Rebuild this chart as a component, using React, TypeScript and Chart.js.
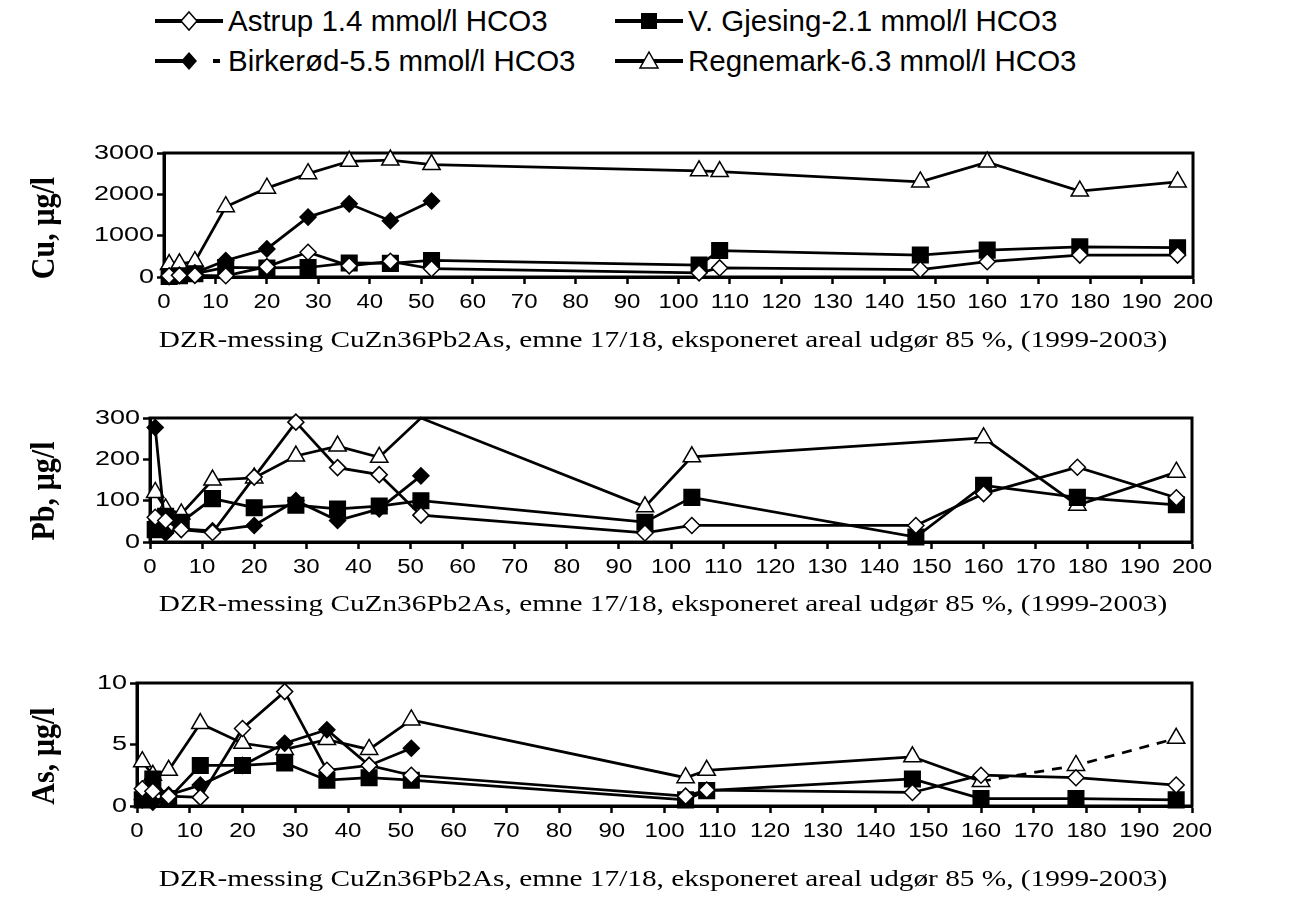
import React, { useEffect, useRef } from 'react';
import { Chart, registerables } from 'chart.js';

Chart.register(...registerables);

const W = 1289;

// ---------- data ----------
const seriesNames = [
  'Astrup 1.4 mmol/l HCO3',
  'V. Gjesing-2.1 mmol/l HCO3',
  'Birkerød-5.5 mmol/l HCO3',
  'Regnemark-6.3 mmol/l HCO3',
];

const xAxisTitle = 'DZR-messing CuZn36Pb2As, emne 17/18, eksponeret areal udgør 85 %, (1999-2003)';

// Cu, µg/l
const cuDays = [1, 3, 6, 12, 20, 28, 36, 44, 52, 104, 108, 147, 160, 178, 197];
const cuAstrup = [30, 40, 40, 30, 250, 600, 270, 380, 200, 100, 220, 180, 370, 530, 530];
const cuGjesing = [10, 30, 80, 230, 220, 230, 340, 330, 400, 290, 640, 530, 650, 730, 710];
const cuBirkerodDays = [1, 3, 6, 12, 20, 28, 36, 44, 52];
const cuBirkerod = [10, 40, 100, 400, 680, 1450, 1770, 1360, 1840];
const cuRegnemark = [300, 320, 370, 1700, 2150, 2500, 2800, 2830, 2720, 2570, 2550, 2300, 2780, 2080, 2300];

// Pb, µg/l
const pbDays = [1, 3, 6, 12, 20, 28, 36, 44, 52, 95, 104, 147, 160, 178, 197];
const pbAstrup = [60, 52, 30, 23, 157, 290, 180, 163, 65, 22, 40, 40, 117, 181, 107];
const pbGjesing = [30, 62, 48, 105, 83, 89, 80, 87, 100, 48, 108, 12, 137, 108, 90];
const pbBirkerodDays = [1, 3, 6, 12, 20, 28, 36, 44, 52];
const pbBirkerod = [277, 22, 32, 27, 40, 100, 52, 80, 160];
const pbRegnemarkDays = [1, 3, 6, 12, 20, 28, 36, 44, 52, 95, 104, 160, 178, 197];
const pbRegnemark = [120, 80, 68, 150, 155, 208, 232, 205, 300, 85, 206, 252, 89, 169];

// As, µg/l
const asDays = [1, 3, 6, 12, 20, 28, 36, 44, 52, 104, 108, 147, 160, 178, 197];
const asAstrup = [1.4, 1.2, 0.8, 0.7, 6.3, 9.3, 2.9, 3.3, 2.5, 0.8, 1.3, 1.1, 2.5, 2.3, 1.7];
const asGjesing = [0.5, 2.2, 0.6, 3.3, 3.3, 3.5, 2.1, 2.3, 2.1, 0.5, 1.25, 2.2, 0.6, 0.6, 0.5];
const asBirkerodDays = [1, 3, 6, 12, 20, 28, 36, 44, 52];
const asBirkerod = [0.5, 0.3, 0.9, 1.7, 3.3, 5.1, 6.2, 3.3, 4.7];
const asRegnemark = [3.6, 2.5, 2.9, 6.7, 5.1, 4.6, 5.4, 4.6, 7.0, 2.3, 2.9, 4.0, 2.0, 3.3, 5.5];
const asRegnemarkDashFrom = 160;

// ---------- styling ----------
const X_TICK_STRETCH = 1.2;
const Y_TICK_STRETCH = 1.35;
const TITLE_STRETCH = 1.22;
const tickFont = { family: '"Liberation Sans", Arial, sans-serif', size: 20 };

const markerStyles = [
  { pointStyle: 'rectRot', radius: 8, fill: '#ffffff' },
  { pointStyle: 'rect', radius: 11, fill: '#000000' },
  { pointStyle: 'rectRot', radius: 8, fill: '#000000' },
  { pointStyle: 'triangle', radius: 10, fill: '#ffffff' },
];

type Series = { x: number[]; y: number[] };
type PanelSpec = {
  yTitle: string;
  yMax: number;
  yStep: number;
  series: Series[];
  dashFrom?: number;
  left: number;
  right: number;
  top: number;
  bottom: number;
  canvasTop: number;
  canvasH: number;
  yTitleX: number;
  yTitleY: number;
  xTitleX: number;
  xTitleY: number;
};

const zip = (xs: number[], ys: number[]) => xs.map((x, i) => ({ x, y: ys[i] }));

const panels: PanelSpec[] = [
  {
    yTitle: 'Cu, µg/l', yMax: 3000, yStep: 1000,
    series: [
      { x: cuDays, y: cuAstrup },
      { x: cuDays, y: cuGjesing },
      { x: cuBirkerodDays, y: cuBirkerod },
      { x: cuDays, y: cuRegnemark },
    ],
    left: 164, right: 1193, top: 153, bottom: 277,
    canvasTop: 113, canvasH: 257, yTitleX: 45, yTitleY: 228, xTitleX: 663, xTitleY: 341,
  },
  {
    yTitle: 'Pb, µg/l', yMax: 300, yStep: 100,
    series: [
      { x: pbDays, y: pbAstrup },
      { x: pbDays, y: pbGjesing },
      { x: pbBirkerodDays, y: pbBirkerod },
      { x: pbRegnemarkDays, y: pbRegnemark },
    ],
    left: 150, right: 1192, top: 418, bottom: 542,
    canvasTop: 378, canvasH: 257, yTitleX: 45, yTitleY: 491, xTitleX: 663, xTitleY: 605,
  },
  {
    yTitle: 'As, µg/l', yMax: 10, yStep: 5,
    series: [
      { x: asDays, y: asAstrup },
      { x: asDays, y: asGjesing },
      { x: asBirkerodDays, y: asBirkerod },
      { x: asDays, y: asRegnemark },
    ],
    dashFrom: asRegnemarkDashFrom,
    left: 137, right: 1192, top: 683, bottom: 806,
    canvasTop: 643, canvasH: 263, yTitleX: 45, yTitleY: 756, xTitleX: 663, xTitleY: 880,
  },
];

function patchStretch(ctx: any) {
  if (ctx.__origFillText) return;
  const orig = ctx.fillText.bind(ctx);
  ctx.__origFillText = orig;
  ctx.fillText = (text: string, x: number, y: number) => {
    const f = ctx.textAlign === 'right' ? Y_TICK_STRETCH : X_TICK_STRETCH;
    ctx.save();
    ctx.translate(x, y);
    ctx.scale(f, 1);
    orig(text, 0, 0);
    ctx.restore();
  };
}

function makeDecor(spec: PanelSpec) {
  return {
    id: 'panelDecor',
    beforeDatasetsDraw(chart: any) {
      const { ctx, chartArea: a } = chart;
      ctx.save();
      ctx.strokeStyle = '#000';
      ctx.lineWidth = 3;
      ctx.strokeRect(a.left, a.top, a.right - a.left, a.bottom - a.top);
      ctx.restore();
    },
    afterDraw(chart: any) {
      const ctx = chart.ctx as any;
      const orig = ctx.__origFillText || ctx.fillText.bind(ctx);
      ctx.save();
      ctx.fillStyle = '#000';
      ctx.font = '24px "Liberation Serif", "Times New Roman", serif';
      ctx.textAlign = 'center';
      ctx.textBaseline = 'middle';
      ctx.translate(spec.xTitleX, spec.xTitleY - spec.canvasTop);
      ctx.scale(TITLE_STRETCH, 1);
      orig(xAxisTitle, 0, 0);
      ctx.restore();

      ctx.save();
      ctx.fillStyle = '#000';
      ctx.font = 'bold 30px "Liberation Serif", "Times New Roman", serif';
      ctx.textAlign = 'center';
      ctx.textBaseline = 'middle';
      ctx.translate(spec.yTitleX, spec.yTitleY - spec.canvasTop);
      ctx.rotate(-Math.PI / 2);
      ctx.scale(1, 1.1);
      orig(spec.yTitle, 0, 0);
      ctx.restore();
    },
  };
}

function PanelChart({ spec }: { spec: PanelSpec }) {
  const ref = useRef<HTMLCanvasElement>(null);
  useEffect(() => {
    const canvas = ref.current!;
    const ctx = canvas.getContext('2d') as any;
    patchStretch(ctx);
    const plotH = spec.bottom - spec.top;
    const padTop = spec.top - spec.canvasTop;
    const xAxisH = spec.canvasH - padTop - plotH;

    const datasets = spec.series.map((s, i) => {
      const st = markerStyles[i];
      const ds: any = {
        label: seriesNames[i],
        data: zip(s.x, s.y),
        borderColor: '#000',
        borderWidth: 2.75,
        tension: 0,
        pointStyle: st.pointStyle,
        pointRadius: (c: any) => (c.raw && c.raw.y >= spec.yMax ? 0 : st.radius),
        pointBackgroundColor: st.fill,
        pointBorderColor: '#000',
        pointBorderWidth: 1.5,
        clip: false,
      };
      if (i === 3 && spec.dashFrom !== undefined) {
        const from = spec.dashFrom;
        ds.segment = {
          borderDash: (c: any) => (c.p0.parsed.x >= from ? [10, 8] : undefined),
        };
      }
      return ds;
    });

    const chart = new Chart(ctx, {
      type: 'line',
      data: { datasets },
      options: {
        animation: false,
        responsive: false,
        events: [],
        layout: { padding: { top: padTop, left: 0, right: W - spec.right, bottom: 0 } },
        plugins: { legend: { display: false }, tooltip: { enabled: false } },
        scales: {
          x: {
            type: 'linear',
            min: 0,
            max: 200,
            ticks: {
              stepSize: 10, autoSkip: false, maxRotation: 0, minRotation: 0,
              color: '#000', font: tickFont, padding: 6,
              callback: (v: any) => String(v),
            },
            grid: { drawOnChartArea: false, drawTicks: true, tickLength: 7, tickWidth: 2.5, tickColor: '#000' },
            border: { display: true, color: '#000', width: 3 },
            afterFit: (scale: any) => { scale.height = xAxisH; },
          },
          y: {
            type: 'linear',
            min: 0,
            max: spec.yMax,
            ticks: {
              stepSize: spec.yStep, color: '#000', font: tickFont, padding: 3,
              callback: (v: any) => String(v),
            },
            grid: { drawOnChartArea: false, drawTicks: true, tickLength: 7, tickWidth: 2.5, tickColor: '#000' },
            border: { display: true, color: '#000', width: 3 },
            afterFit: (scale: any) => { scale.width = spec.left; },
          },
        },
      },
      plugins: [makeDecor(spec)],
    } as any);
    return () => chart.destroy();
  }, [spec]);
  return (
    <canvas
      ref={ref}
      width={W}
      height={spec.canvasH}
      style={{ position: 'absolute', left: 0, top: spec.canvasTop, width: W, height: spec.canvasH }}
    />
  );
}

function LegendIcon({ kind }: { kind: number }) {
  const line = (x1: number, x2: number) => (
    <line x1={x1} y1={12} x2={x2} y2={12} stroke="#000" strokeWidth={4} />
  );
  if (kind === 0)
    return (
      <svg width={68} height={24}>
        {line(0, 68)}
        <polygon points="34,3 42,12 34,21 26,12" fill="#fff" stroke="#000" strokeWidth={1.5} />
      </svg>
    );
  if (kind === 1)
    return (
      <svg width={68} height={24}>
        {line(0, 68)}
        <rect x={26} y={4} width={16} height={16} fill="#000" />
      </svg>
    );
  if (kind === 2)
    return (
      <svg width={68} height={24}>
        {line(0, 30)}
        <polygon points="34,3 42,12 34,21 26,12" fill="#000" />
        <rect x={58} y={10} width={7} height={4} fill="#000" />
      </svg>
    );
  return (
    <svg width={68} height={24}>
      {line(0, 68)}
      <polygon points="34,3 43,19 25,19" fill="#fff" stroke="#000" strokeWidth={1.5} />
    </svg>
  );
}

const legendPos = [
  { x: 155, y: 21 },
  { x: 615, y: 21 },
  { x: 155, y: 61 },
  { x: 615, y: 61 },
];

function Legend() {
  return (
    <>
      {seriesNames.map((name, i) => (
        <div
          key={name}
          style={{
            position: 'absolute',
            left: legendPos[i].x,
            top: legendPos[i].y - 17,
            height: 34,
            display: 'flex',
            alignItems: 'center',
            whiteSpace: 'nowrap',
          }}
        >
          <LegendIcon kind={i} />
          <span
            style={{
              marginLeft: 5,
              fontFamily: '"Liberation Sans", Arial, sans-serif',
              fontSize: 29.5,
              lineHeight: '34px',
              color: '#000',
            }}
          >
            {name}
          </span>
        </div>
      ))}
    </>
  );
}

export default function App() {
  return (
    <div style={{ position: 'absolute', left: 0, top: 0, width: W, height: 906, background: '#fff', overflow: 'hidden' }}>
      <Legend />
      {panels.map((p) => (
        <PanelChart key={p.yTitle} spec={p} />
      ))}
    </div>
  );
}
